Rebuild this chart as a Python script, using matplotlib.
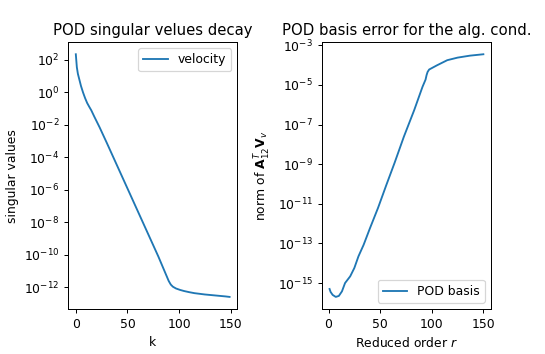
import numpy as np
import matplotlib.pyplot as plt

# singular values of the velocity snapshots (log10)
k_vals = [0, 1, 2, 3, 5, 7, 9, 11, 13, 15, 18, 23, 30, 40, 50, 60, 70, 80, 88,
          90, 92, 94, 97, 101, 105, 110, 115, 120, 125, 130, 135, 140, 145, 149]
sv_log = [2.35, 1.55, 1.15, 0.9, 0.4, 0.0, -0.35, -0.65, -0.88, -1.1, -1.5, -2.14,
          -3.1, -4.5, -5.9, -7.3, -8.7, -10.1, -11.3, -11.6, -11.82, -11.95, -12.06,
          -12.15, -12.22, -12.29, -12.35, -12.39, -12.43, -12.46, -12.49, -12.52,
          -12.55, -12.58]

# POD basis error for the algebraic condition (log10)
r_vals = [1, 2, 4, 7, 10, 13, 16, 21, 25, 29, 34, 40, 48, 56, 64, 73, 83, 91,
          94, 95, 96, 97.5, 100, 105, 110, 115, 125, 137, 150]
err_log = [-15.3, -15.45, -15.6, -15.7, -15.65, -15.42, -15.0, -14.66, -14.24,
           -13.65, -13.07, -12.25, -11.2, -10.05, -8.93, -7.61, -6.27, -5.1,
           -4.73, -4.5, -4.34, -4.22, -4.15, -4.01, -3.88, -3.75, -3.62, -3.52,
           -3.45]

dpi = 89
fig, (ax1, ax2) = plt.subplots(1, 2, figsize=(545 / dpi, 354 / dpi), dpi=dpi)
plt.subplots_adjust(left=0.125, right=0.901, bottom=0.127, top=0.881, wspace=0.5)

ax1.semilogy(k_vals, 10.0 ** np.array(sv_log), label='velocity')
ax1.set_xlabel('k')
ax1.set_ylabel('singular values')
ax1.set_title('POD singular velues decay')
ax1.legend(loc='upper right')

ax2.semilogy(r_vals, 10.0 ** np.array(err_log), label='POD basis')
ax2.set_xlabel(r'Reduced order $r$')
ax2.set_ylabel(r'norm of $\mathbf{A}_{12}^T\mathbf{V}_v$')
ax2.set_title('POD basis error for the alg. cond.')
ax2.legend(loc='lower right')

plt.savefig('out.png', dpi=dpi)
